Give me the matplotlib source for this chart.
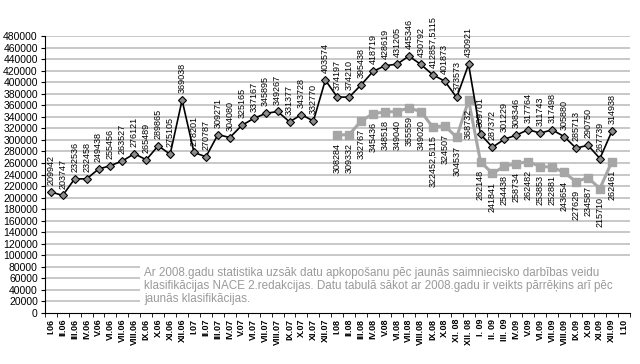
import numpy as np
import matplotlib.pyplot as plt
from matplotlib.patches import Rectangle

plt.rcParams['font.family'] = ['Liberation Sans Narrow', 'Liberation Sans', 'DejaVu Sans']

# mēneši
menesi = ['I.06', 'II.06', 'III.06', 'IV.06', 'V.06', 'VI.06', 'VII.06', 'VIII.06', 'IX.06', 'X.06', 'XI.06', 'XII.06',
          'I.07', 'II.07', 'III.07', 'IV.07', 'V.07', 'VI.07', 'VII.07', 'VIII.07', 'IX.07', 'X.07', 'XI.07', 'XII.07',
          'I.08', 'II.08', 'III.08', 'IV.08', 'V.08', 'VI.08', 'VII.08', 'VIII.08', 'IX.08', 'X.08', 'XI. 08', 'XII. 08',
          'I. 09', 'II. 09', 'III. 09', 'IV.09', 'V.09', 'VI.09', 'VII.09', 'VIII.09', 'IX.09', 'X.09', 'XI.09', 'XII.09',
          'I.10']

# vecā klasifikācija (I.06 - XII.09)
vecie = [209942, 203747, 232536, 232458, 249438, 255456, 263527, 276121, 265489, 289865, 275105, 369038,
         278201, 270787, 309271, 304080, 325165, 337167, 345895, 349267, 331377, 343728, 332770, 403574,
         374197, 374210, 395438, 418719, 428619, 431205, 445346, 430792, 412857.5115, 401873, 373573, 430921,
         309701, 287372, 301229, 308346, 317764, 311743, 317498, 305880, 285713, 290750, 267739, 314938]
vecie_teksts = ['209942', '203747', '232536', '232458', '249438', '255456', '263527', '276121', '265489', '289865',
                '275105', '369038', '278201', '270787', '309271', '304080', '325165', '337167', '345895', '349267',
                '331377', '343728', '332770', '403574', '374197', '374210', '395438', '418719', '428619', '431205',
                '445346', '430792', '412857,5115', '401873', '373573', '430921', '309701', '287372', '301229',
                '308346', '317764', '311743', '317498', '305880', '285713', '290750', '267739', '314938']

# NACE 2 (I.08 - XII.09)
nace2 = [308284, 309332, 332767, 345436, 348518, 349040, 355559, 349020, 322452.5115, 324507, 304537, 368732,
         262148, 241841, 254438, 258734, 262482, 253853, 252881, 243654, 227629, 234587, 215710, 262461]
nace2_teksts = ['308284', '309332', '332767', '345436', '348518', '349040', '355559', '349020', '322452,5115',
                '324507', '304537', '368732', '262148', '241841', '254438', '258734', '262482', '253853',
                '252881', '243654', '227629', '234587', '215710', '262461']

x_vecie = np.arange(len(vecie))
x_nace = np.arange(24, 24 + len(nace2))

fig = plt.figure(figsize=(6.4, 3.64), dpi=100)
ax = fig.add_axes([0.070, 0.140, 0.914, 0.761])

for y in range(20000, 480001, 20000):
    ax.axhline(y, color='#c8c8c8', lw=1.4, zorder=0)

ax.plot(x_nace, nace2, '-s', color='#a6a6a6', lw=2.2, markersize=6, zorder=2)
ax.plot(x_vecie, vecie, '-D', color='black', lw=1.2, markersize=4.5,
        markerfacecolor='#8c8c8c', markeredgecolor='black', markeredgewidth=0.8, zorder=3)

for xi, yi, t in zip(x_vecie, vecie, vecie_teksts):
    ax.annotate(t, (xi, yi), xytext=(0, 5), textcoords='offset points', rotation=90,
                ha='center', va='bottom', fontsize=6.5, zorder=4)
for xi, yi, t in zip(x_nace, nace2, nace2_teksts):
    ax.annotate(t, (xi, yi), xytext=(0, -6), textcoords='offset points', rotation=90,
                ha='center', va='top', fontsize=6.5, zorder=4)

ax.set_xlim(-0.5, len(menesi) - 0.5)
ax.set_ylim(0, 480000)
ax.set_yticks(range(0, 480001, 20000))
ax.set_yticklabels([str(v) for v in range(0, 480001, 20000)], fontsize=7.5)
ax.set_xticks(np.arange(len(menesi)))
ax.set_xticklabels(menesi, rotation=90, fontsize=6.5, fontweight='bold')
ax.set_xticks(np.arange(len(menesi) + 1) - 0.5, minor=True)
ax.tick_params(axis='x', which='major', length=0, pad=4)
ax.tick_params(axis='x', which='minor', length=3, direction='out')
ax.tick_params(axis='y', length=3, direction='out', pad=2)
for s in ['top', 'right']:
    ax.spines[s].set_visible(False)

# piezīmes laukums
fig.patches.append(Rectangle((0.219, 0.160), 0.768, 0.122, transform=fig.transFigure,
                             facecolor='white', edgecolor='none', zorder=5))
piezime = ('Ar 2008.gadu statistika uzsāk datu apkopošanu pēc jaunās saimniecisko darbības veidu\n'
           'klasifikācijas NACE 2.redakcijas. Datu tabulā sākot ar 2008.gadu ir veikts pārrēķins arī pēc\n'
           'jaunās klasifikācijas.')
fig.text(0.225, 0.266, piezime, fontsize=8.4, color='#9a9a9a', va='top', ha='left', linespacing=1.12,
         family=['Liberation Sans', 'DejaVu Sans'], zorder=6)

fig.savefig('out.png', dpi=100)
